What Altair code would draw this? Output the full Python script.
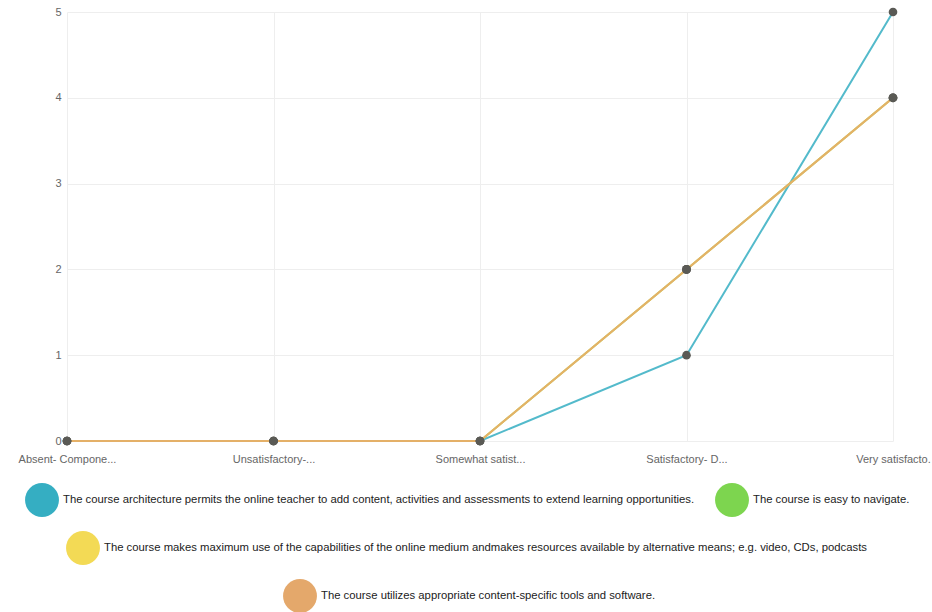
import altair as alt
import pandas as pd

categories = ["Absent- Compone...", "Unsatisfactory-...", "Somewhat satist...", "Satisfactory- D...", "Very satisfacto."]
series_names = [
    "The course architecture permits the online teacher to add content, activities and assessments to extend learning opportunities.",
    "The course is easy to navigate.",
    "The course makes maximum use of the capabilities of the online medium andmakes resources available by alternative means; e.g. video, CDs, podcasts",
    "The course utilizes appropriate content-specific tools and software.",
]
series_colors = ["#35aec2", "#7dd54f", "#f3da55", "#e4a86b"]
values_architecture = [0, 0, 0, 1, 5]
values_navigate = [0, 0, 0, 2, 4]
values_medium = [0, 0, 0, 2, 4]
values_tools = [0, 0, 0, 2, 4]
all_values = [values_architecture, values_navigate, values_medium, values_tools]

# legend layout: which series go on each legend row, and where each row sits
legend_rows = [[0, 1], [2], [3]]
legend_x = [-42, -1, 216]
legend_y = [471, 519, 567]

rows = []
for si, (name, vals) in enumerate(zip(series_names, all_values)):
    for ci, (cat, v) in enumerate(zip(categories, vals)):
        rows.append({"series": name, "order": si, "category": cat, "value": v})
df = pd.DataFrame(rows)

x_enc = alt.X("category:N", sort=categories, scale=alt.Scale(padding=0),
              axis=alt.Axis(title=None, labelAngle=0, ticks=False, domain=False,
                            labelColor="#666", labelFontSize=11, labelFont="Liberation Sans",
                            labelPadding=12, grid=True, gridColor="#eeeeee", labelLimit=200))
y_enc = alt.Y("value:Q", scale=alt.Scale(domain=[0, 5]),
              axis=alt.Axis(title=None, values=[0, 1, 2, 3, 4, 5], ticks=False, domain=False,
                            labelColor="#666", labelFontSize=11, labelFont="Liberation Sans",
                            labelPadding=6, grid=True, gridColor="#eeeeee"))

color_scale = alt.Scale(domain=series_names, range=series_colors)

lines = alt.Chart(df).mark_line(strokeWidth=2, opacity=0.85).encode(
    x=x_enc, y=y_enc,
    color=alt.Color("series:N", scale=color_scale, legend=None),
    order=alt.Order("order:Q"),
    detail="series:N",
)
points = alt.Chart(df).mark_circle(size=75, color="#5a5a55", opacity=1).encode(
    x=x_enc, y=y_enc, detail="series:N"
)

legend_layers = []
for r, lx, ly in zip(legend_rows, legend_x, legend_y):
    names = [series_names[i] for i in r]
    cols = [series_colors[i] for i in r]
    rdf = pd.DataFrame({"series": names})
    lc = alt.Chart(rdf).mark_circle(opacity=0).encode(
        color=alt.Color("series:N", scale=alt.Scale(domain=names, range=cols),
                        legend=alt.Legend(orient="none", legendX=lx, legendY=ly,
                                          direction="horizontal", title=None,
                                          symbolType="circle", symbolSize=1150,
                                          symbolOpacity=1, symbolStrokeWidth=0,
                                          labelFont="Liberation Sans", labelFontSize=11.3,
                                          labelColor="#222", labelLimit=1200, labelOffset=4,
                                          columnPadding=20, padding=0))
    )
    legend_layers.append(lc)

chart = alt.layer(lines, points, *legend_layers).resolve_scale(
    color="independent"
).properties(
    width=826, height=429,
    autosize=alt.AutoSizeParams(type="none"),
    padding={"left": 67, "top": 12, "right": 39, "bottom": 171},
).configure_view(stroke=None)

chart.save("out.html", embed_options={"renderer": "svg", "actions": False})
